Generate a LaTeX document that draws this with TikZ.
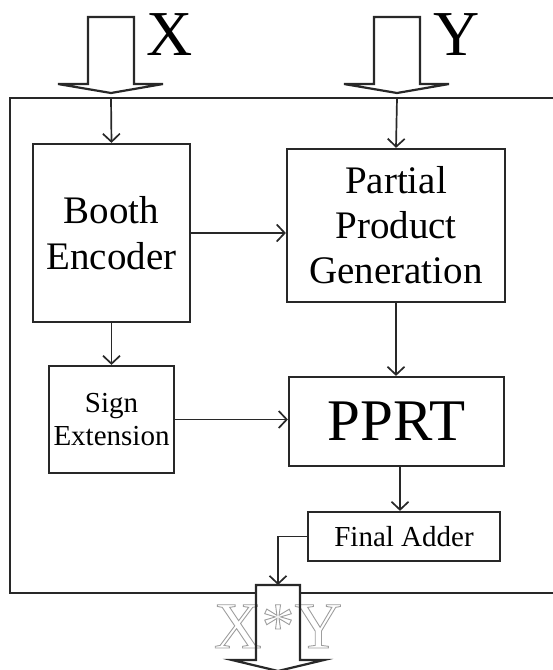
\documentclass[tikz,border=0pt]{standalone}
\usepackage{fontspec}
\setmainfont{Liberation Serif}
\usetikzlibrary{arrows.meta,calc}

\definecolor{ink}{RGB}{40,40,40}

% hollow (stroked only) text in grey
\newcommand{\hollowtext}[1]{%
  \special{pdf:code q 1 Tr 0.9 w 0.62 0.62 0.62 RG}#1\special{pdf:code Q}}

\tikzset{
  blk/.style={draw=ink, line width=2.2pt, fill=white, inner sep=0pt, align=center},
  link/.style={draw=ink, line width=1.7pt, -{Straight Barb[length=8pt,width=17pt,line width=1.7pt]}},
  bigarrow/.style={draw=ink, line width=2.2pt, line join=miter},
  frame/.style={draw=ink, line width=2.2pt},
}

\begin{document}
\begin{tikzpicture}[x=1pt, y=-1pt]
\useasboundingbox (0,0) rectangle (553,670);

% system boundary (open on the right)
\draw[frame] (553,98) -- (10,98) -- (10,593) -- (553,593);

% input block arrows
\draw[bigarrow, fill=white] (88,17) -- (134,17) -- (134,84) -- (163,84) -- (111,93) -- (58,84) -- (88,84) -- cycle;
\draw[bigarrow, fill=white] (374,17) -- (420,17) -- (420,84) -- (449,84) -- (397,93) -- (344,84) -- (374,84) -- cycle;
\node[anchor=base west, inner sep=0pt, font=\fontsize{64}{64}\selectfont] (xlab) at (146,55) {X};
\node[anchor=base west, inner sep=0pt, font=\fontsize{64}{64}\selectfont] (ylab) at (433,55) {Y};
\coordinate (xin) at (111,98);
\coordinate (yin) at (397,98);

% functional blocks
\node[blk, minimum width=157pt, minimum height=178pt, font=\fontsize{39}{46}\selectfont] (booth) at (111.5,233) {Booth\\Encoder};
\node[blk, minimum width=218pt, minimum height=153pt, font=\fontsize{39}{45}\selectfont] (ppg) at (396,225.5) {Partial\\Product\\Generation};
\node[blk, minimum width=125pt, minimum height=107pt, font=\fontsize{29}{33}\selectfont] (sign) at (111.5,419.5) {Sign\\Extension};
\node[blk, minimum width=215pt, minimum height=89pt, font=\fontsize{59}{59}\selectfont] (pprt) at (396.5,421.5) {PPRT};
\node[blk, minimum width=192pt, minimum height=49pt, font=\fontsize{29}{33}\selectfont] (fa) at (404,536.5) {Final Adder};

% output block arrow: white body, hollow label, then outline on top
\coordinate (out) at (278,585);
\fill[white] (256,585) -- (300,585) -- (300,660) -- (324,660) -- (278,671) -- (232,660) -- (256,660) -- cycle;
\node[anchor=base, inner sep=0pt, font=\fontsize{66}{66}\selectfont] (prod) at (278,648) {\hollowtext{X*Y}};
\draw[bigarrow] (256,585) -- (300,585) -- (300,660) -- (324,660) -- (278,671) -- (232,660) -- (256,660) -- cycle;

% connections
\coordinate (pprtout) at ($(pprt.south)+(3.5,0)$);
\draw[link] (xin) -- (booth.north);
\draw[link] (yin) -- (ppg.north);
\draw[link] (booth.east) -- (booth.east -| ppg.west);
\draw[link] (booth.south) -- (sign.north);
\draw[link] (ppg.south) -- (ppg.south |- pprt.north);
\draw[link] (sign.east) -- (sign.east -| pprt.west);
\draw[link] (pprtout) -- (pprtout |- fa.north);
\draw[link] (fa.west) -| (out);
\end{tikzpicture}
\end{document}
